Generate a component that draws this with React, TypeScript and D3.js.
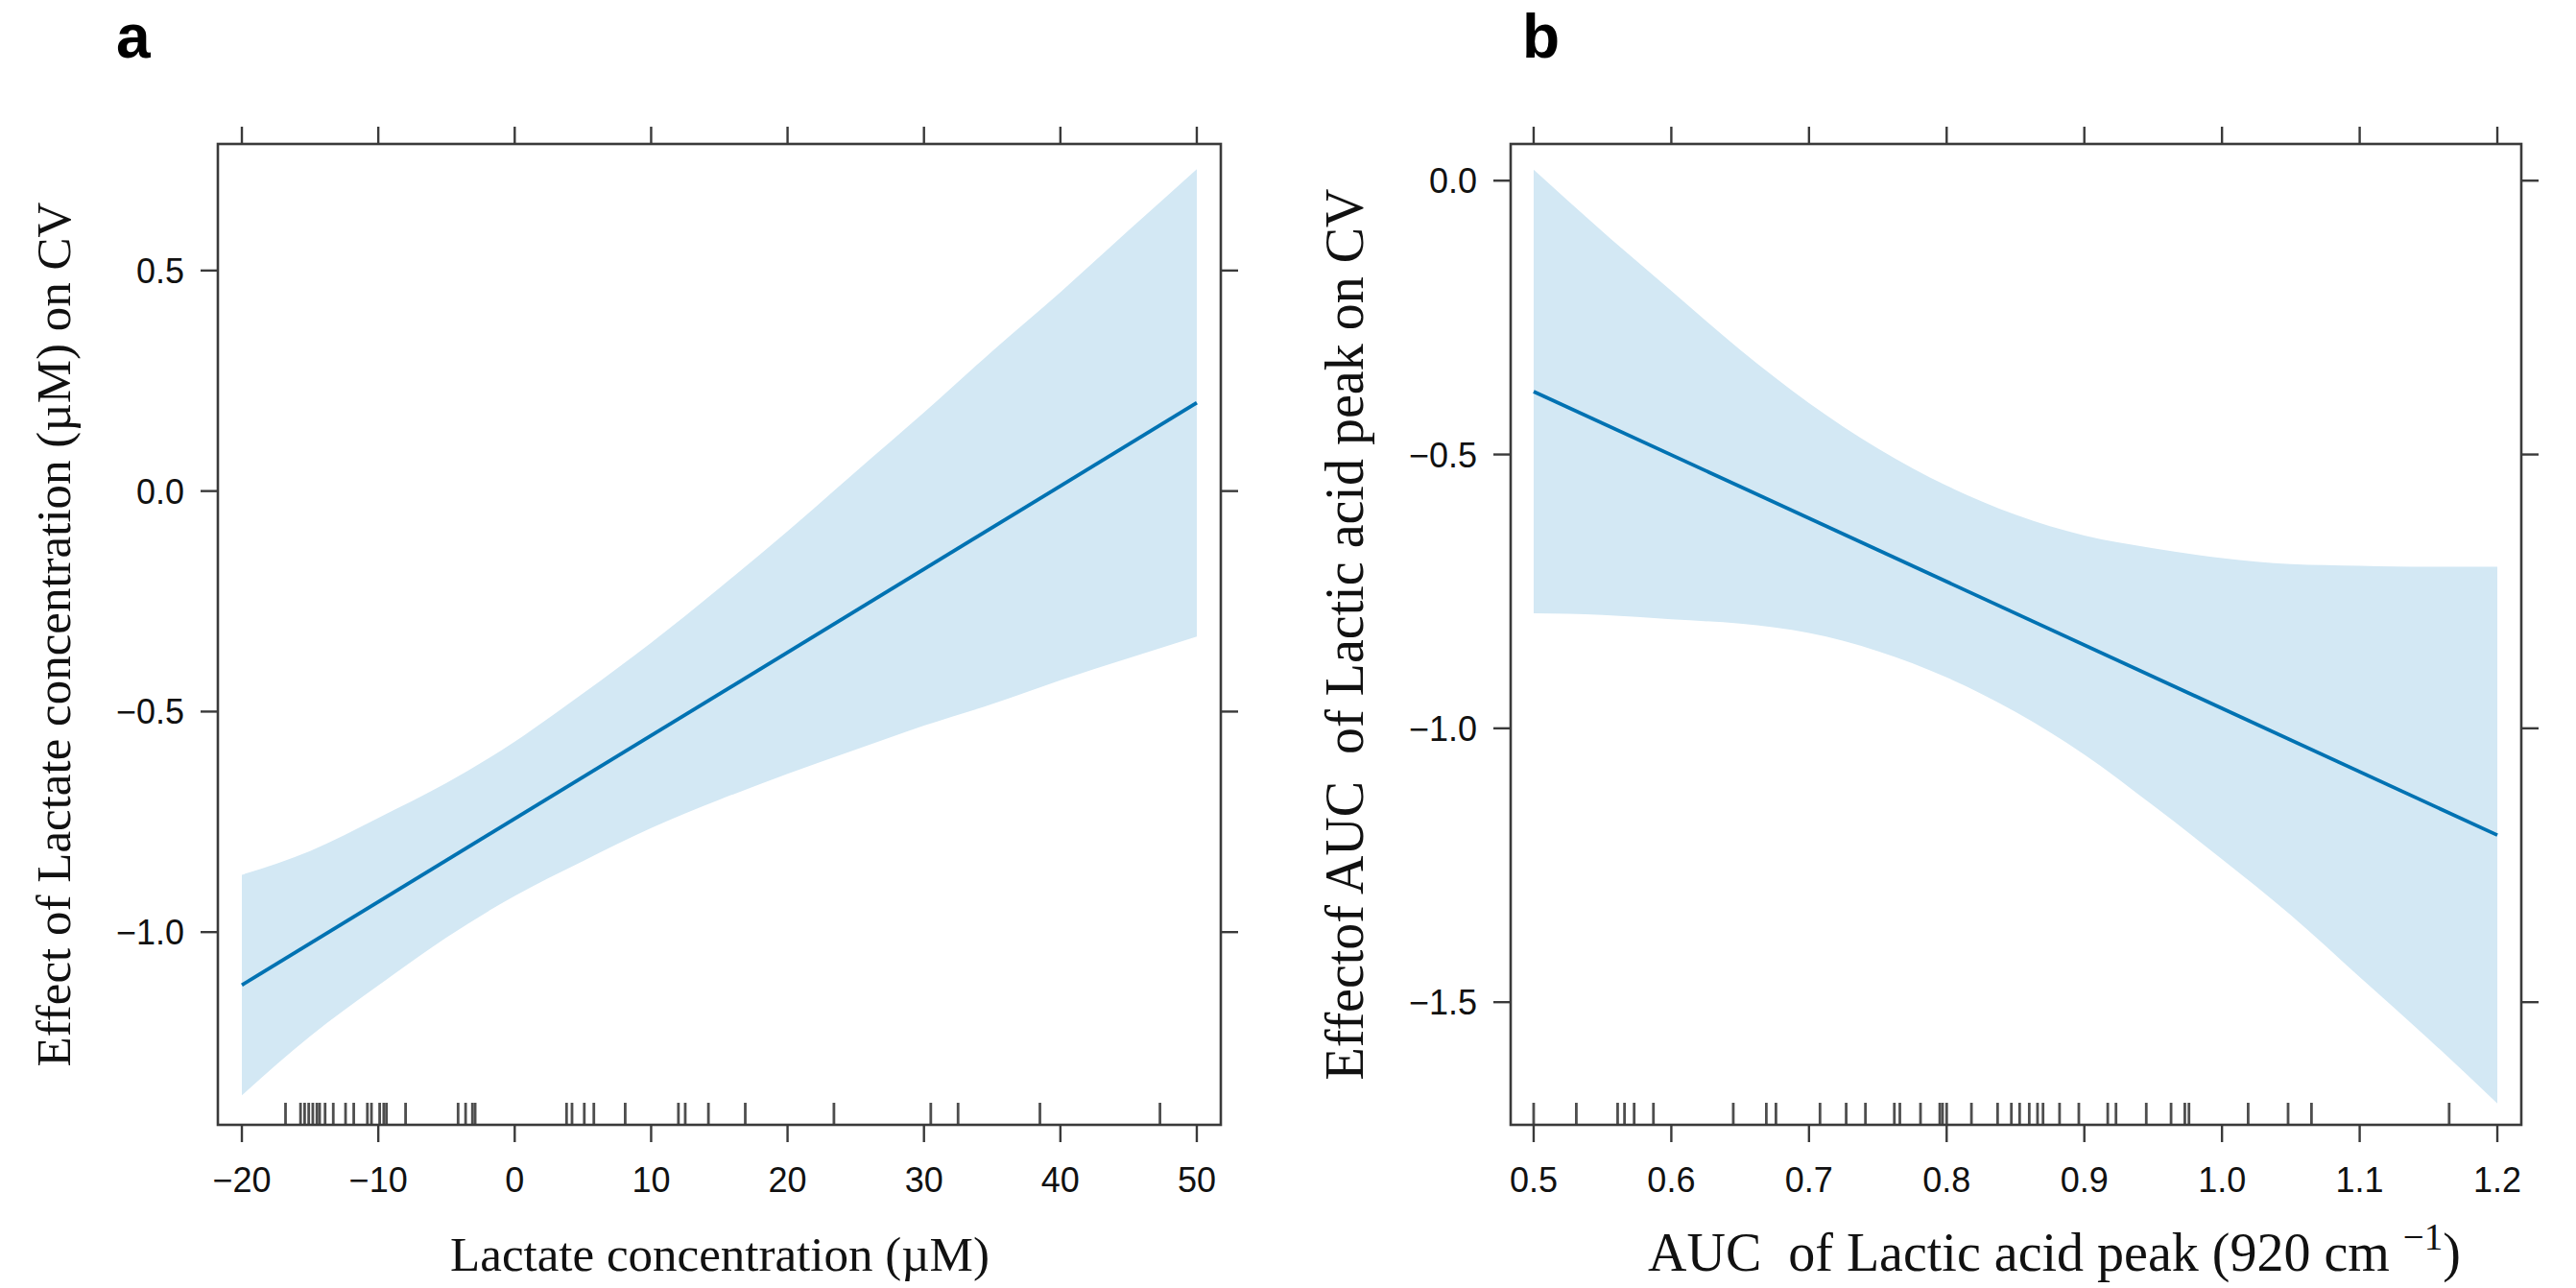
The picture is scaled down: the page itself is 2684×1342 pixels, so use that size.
import * as d3 from "d3";

// Panel a — lactate concentration
const A_X_TICKS = [-20, -10, 0, 10, 20, 30, 40, 50];
const A_Y_TICKS = [-1.0, -0.5, 0.0, 0.5];
const A_FIT_X = [-20, 50];
const A_FIT_Y = [-1.12, 0.2];
const A_BAND_X = [-20, -15, -10, -5, 0, 5, 10, 15, 20, 25, 30, 35, 40, 45, 50];
const A_UPPER = [-0.87, -0.816, -0.741, -0.662, -0.568, -0.459, -0.344, -0.22, -0.091, 0.044, 0.178, 0.317, 0.451, 0.591, 0.73];
const A_LOWER = [-1.37, -1.236, -1.121, -1.012, -0.918, -0.839, -0.764, -0.7, -0.641, -0.586, -0.532, -0.483, -0.429, -0.379, -0.33];
const A_RUG = [
  -16.8, -15.7, -15.4, -15.1, -14.8, -14.5, -14.3, -13.9, -13.3, -12.4, -11.8,
  -10.8, -10.5, -9.9, -9.6, -9.4, -8.0, -4.15, -3.6, -3.1, -2.9, 3.8, 4.2, 5.1,
  5.8, 8.1, 12.0, 12.5, 14.2, 16.9, 23.4, 30.5, 32.5, 38.5, 47.3,
];

// Panel b — AUC of lactic acid peak
const B_X_TICKS = [0.5, 0.6, 0.7, 0.8, 0.9, 1.0, 1.1, 1.2];
const B_Y_TICKS = [-1.5, -1.0, -0.5, 0.0];
const B_FIT_X = [0.5, 1.2];
const B_FIT_Y = [-0.385, -1.195];
const B_BAND_X = [0.5, 0.55, 0.6, 0.65, 0.7, 0.75, 0.8, 0.85, 0.9, 0.95, 1.0, 1.05, 1.1, 1.15, 1.2];
const B_UPPER = [0.02, -0.093, -0.201, -0.309, -0.406, -0.489, -0.557, -0.61, -0.648, -0.671, -0.689, -0.7, -0.703, -0.705, -0.705];
const B_LOWER = [-0.79, -0.793, -0.801, -0.809, -0.826, -0.859, -0.907, -0.97, -1.048, -1.141, -1.239, -1.341, -1.454, -1.567, -1.685];
const B_RUG = [
  0.5, 0.531, 0.561, 0.566, 0.573, 0.587, 0.645, 0.669, 0.676, 0.708, 0.727,
  0.741, 0.762, 0.766, 0.781, 0.795, 0.797, 0.8, 0.818, 0.837, 0.847, 0.853,
  0.86, 0.866, 0.87, 0.882, 0.896, 0.917, 0.923, 0.945, 0.963, 0.973, 0.976,
  1.019, 1.048, 1.065, 1.165,
];

const W = 2684;
const H = 1342;
const TOP = 150;
const BOTTOM = 1172;
const AXIS = "#3a3a3a";
const LINE = "#0072b2";
const BAND = "#d3e8f4";
const SANS = "'Liberation Sans', Arial, sans-serif";
const SERIF = "'Liberation Serif', 'Times New Roman', serif";

const fmt = (v: number, digits: number) =>
  v.toFixed(digits).replace("-", "\u2212");

interface PanelProps {
  left: number;
  right: number;
  xDomain: [number, number];
  yDomain: [number, number];
  xTicks: number[];
  yTicks: number[];
  xDigits: number;
  fitX: number[];
  fitY: number[];
  bandX: number[];
  upper: number[];
  lower: number[];
  rug: number[];
}

function Panel(p: PanelProps) {
  const x = d3.scaleLinear().domain(p.xDomain).range([p.left, p.right]);
  const y = d3.scaleLinear().domain(p.yDomain).range([BOTTOM, TOP]);

  const band = d3
    .area<number>()
    .x((_, i) => x(p.bandX[i]))
    .y0((_, i) => y(p.lower[i]))
    .y1((_, i) => y(p.upper[i]))
    .curve(d3.curveMonotoneX);

  const fit = d3
    .line<number>()
    .x((_, i) => x(p.fitX[i]))
    .y((d) => y(d));

  const tick = 18;

  return (
    <g>
      <path d={band(p.bandX) ?? ""} fill={BAND} />
      <path d={fit(p.fitY) ?? ""} fill="none" stroke={LINE} strokeWidth={3.8} />

      {/* rug */}
      {p.rug.map((v, i) => (
        <line
          key={`r${i}`}
          x1={x(v)}
          x2={x(v)}
          y1={BOTTOM - 23}
          y2={BOTTOM}
          stroke="#222"
          strokeOpacity={0.8}
          strokeWidth={2.8}
        />
      ))}

      {/* box */}
      <rect
        x={p.left}
        y={TOP}
        width={p.right - p.left}
        height={BOTTOM - TOP}
        fill="none"
        stroke={AXIS}
        strokeWidth={2.6}
      />

      {/* x ticks, top and bottom */}
      {p.xTicks.map((v) => (
        <g key={`x${v}`}>
          <line x1={x(v)} x2={x(v)} y1={BOTTOM} y2={BOTTOM + tick} stroke={AXIS} strokeWidth={2.4} />
          <line x1={x(v)} x2={x(v)} y1={TOP} y2={TOP - tick} stroke={AXIS} strokeWidth={2.4} />
          <text
            x={x(v)}
            y={1242}
            textAnchor="middle"
            fontFamily={SANS}
            fontSize={36}
            fill="#111"
          >
            {fmt(v, p.xDigits)}
          </text>
        </g>
      ))}

      {/* y ticks, left and right */}
      {p.yTicks.map((v) => (
        <g key={`y${v}`}>
          <line x1={p.left} x2={p.left - tick} y1={y(v)} y2={y(v)} stroke={AXIS} strokeWidth={2.4} />
          <line x1={p.right} x2={p.right + tick} y1={y(v)} y2={y(v)} stroke={AXIS} strokeWidth={2.4} />
          <text
            x={p.left - 35}
            y={y(v)}
            dy="0.36em"
            textAnchor="end"
            fontFamily={SANS}
            fontSize={36}
            fill="#111"
          >
            {fmt(v, 1)}
          </text>
        </g>
      ))}
    </g>
  );
}

export default function App() {
  const midY = (TOP + BOTTOM) / 2;
  return (
    <svg
      width={W}
      height={H}
      viewBox={`0 0 ${W} ${H}`}
      style={{ position: "absolute", left: 0, top: 0, background: "#fff" }}
    >
      <rect width={W} height={H} fill="#fff" />

      <Panel
        left={227}
        right={1272}
        xDomain={[-21.76, 51.76]}
        yDomain={[-1.437, 0.787]}
        xTicks={A_X_TICKS}
        yTicks={A_Y_TICKS}
        xDigits={0}
        fitX={A_FIT_X}
        fitY={A_FIT_Y}
        bandX={A_BAND_X}
        upper={A_UPPER}
        lower={A_LOWER}
        rug={A_RUG}
      />
      <Panel
        left={1574}
        right={2627}
        xDomain={[0.4833, 1.2174]}
        yDomain={[-1.724, 0.067]}
        xTicks={B_X_TICKS}
        yTicks={B_Y_TICKS}
        xDigits={1}
        fitX={B_FIT_X}
        fitY={B_FIT_Y}
        bandX={B_BAND_X}
        upper={B_UPPER}
        lower={B_LOWER}
        rug={B_RUG}
      />

      {/* panel letters */}
      <text x={121} y={60} fontFamily={SANS} fontWeight="bold" fontSize={64} fill="#000">
        a
      </text>
      <text x={1586} y={60} fontFamily={SANS} fontWeight="bold" fontSize={64} fill="#000">
        b
      </text>

      {/* axis titles */}
      <text
        x={750}
        y={1324}
        textAnchor="middle"
        fontFamily={SERIF}
        fontSize={51}
        fill="#111"
      >
        Lactate concentration (µM)
      </text>
      <text
        x={1717}
        y={1324}
        fontFamily={SERIF}
        fontSize={56}
        fill="#111"
        style={{ whiteSpace: "pre" }}
      >
        {"AUC  of Lactic acid peak (920 cm "}
        <tspan dy={-22} fontSize={39}>
          {"\u22121"}
        </tspan>
        <tspan dy={22}>)</tspan>
      </text>
      <text
        transform={`translate(73,${midY}) rotate(-90)`}
        textAnchor="middle"
        fontFamily={SERIF}
        fontSize={51}
        fill="#111"
      >
        Effect of Lactate concentration (µM) on CV
      </text>
      <text
        transform={`translate(1420,${midY}) rotate(-90)`}
        textAnchor="middle"
        fontFamily={SERIF}
        fontSize={56}
        fill="#111"
        style={{ whiteSpace: "pre" }}
      >
        {"Effectof AUC  of Lactic acid peak on CV"}
      </text>
    </svg>
  );
}
